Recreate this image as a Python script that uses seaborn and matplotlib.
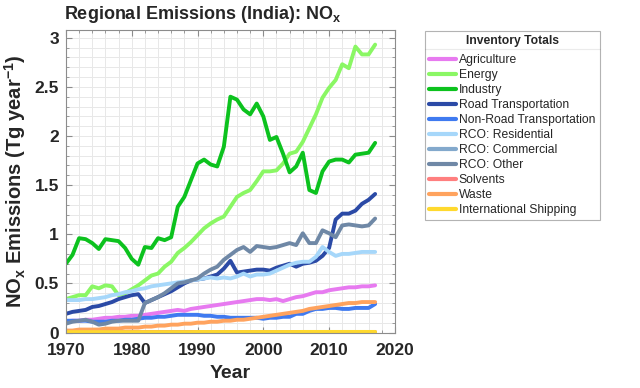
import numpy as np
import pandas as pd
import matplotlib
matplotlib.use("Agg")
import matplotlib.pyplot as plt
from matplotlib.lines import Line2D
from matplotlib.ticker import MultipleLocator, FuncFormatter
import seaborn as sns

# Years covered by the inventory
years = list(range(1970, 2018))

# Sector totals (Tg/yr)
agriculture = [0.11, 0.12, 0.12, 0.13, 0.13, 0.14, 0.15, 0.15, 0.16, 0.16,
               0.17, 0.17, 0.18, 0.19, 0.20, 0.21, 0.22, 0.23, 0.22, 0.24,
               0.25, 0.26, 0.27, 0.28, 0.29, 0.30, 0.31, 0.32, 0.33, 0.34,
               0.34, 0.33, 0.34, 0.32, 0.34, 0.36, 0.37, 0.39, 0.41, 0.41,
               0.43, 0.44, 0.45, 0.46, 0.46, 0.47, 0.47, 0.48]
energy = [0.34, 0.36, 0.38, 0.38, 0.47, 0.45, 0.48, 0.47, 0.38, 0.40,
          0.44, 0.48, 0.53, 0.58, 0.60, 0.67, 0.72, 0.81, 0.86, 0.92,
          0.99, 1.06, 1.11, 1.15, 1.18, 1.28, 1.38, 1.42, 1.45, 1.54,
          1.64, 1.64, 1.65, 1.72, 1.82, 1.84, 1.94, 2.08, 2.22, 2.39,
          2.49, 2.57, 2.73, 2.69, 2.91, 2.83, 2.83, 2.93]
industry = [0.70, 0.79, 0.96, 0.95, 0.91, 0.85, 0.95, 0.94, 0.93, 0.86,
            0.75, 0.69, 0.87, 0.86, 0.96, 0.94, 0.97, 1.28, 1.38, 1.55,
            1.72, 1.76, 1.71, 1.69, 1.89, 2.40, 2.37, 2.27, 2.22, 2.33,
            2.20, 1.96, 1.99, 1.82, 1.63, 1.69, 1.83, 1.45, 1.42, 1.64,
            1.74, 1.76, 1.76, 1.73, 1.81, 1.82, 1.83, 1.93]
road = [0.19, 0.21, 0.22, 0.23, 0.26, 0.27, 0.29, 0.31, 0.34, 0.36,
        0.38, 0.39, 0.30, 0.33, 0.36, 0.39, 0.42, 0.46, 0.50, 0.53,
        0.54, 0.55, 0.57, 0.59, 0.65, 0.73, 0.61, 0.62, 0.63, 0.64,
        0.64, 0.63, 0.66, 0.68, 0.70, 0.67, 0.70, 0.71, 0.73, 0.78,
        0.86, 1.15, 1.21, 1.21, 1.24, 1.31, 1.35, 1.41]
non_road = [0.12, 0.12, 0.12, 0.12, 0.11, 0.11, 0.11, 0.12, 0.12, 0.13,
            0.13, 0.14, 0.15, 0.15, 0.16, 0.16, 0.17, 0.18, 0.18, 0.18,
            0.18, 0.17, 0.17, 0.16, 0.16, 0.15, 0.15, 0.15, 0.15, 0.15,
            0.14, 0.15, 0.15, 0.16, 0.16, 0.19, 0.19, 0.22, 0.24, 0.24,
            0.25, 0.25, 0.24, 0.24, 0.25, 0.25, 0.25, 0.29]
residential = [0.33, 0.33, 0.33, 0.34, 0.34, 0.35, 0.36, 0.38, 0.39, 0.41,
               0.42, 0.44, 0.45, 0.47, 0.48, 0.49, 0.50, 0.51, 0.52, 0.53,
               0.54, 0.55, 0.56, 0.55, 0.56, 0.55, 0.57, 0.60, 0.57, 0.59,
               0.59, 0.60, 0.63, 0.66, 0.69, 0.71, 0.72, 0.72, 0.77, 0.87,
               0.82, 0.78, 0.80, 0.80, 0.81, 0.82, 0.82, 0.82]
commercial = [0.004, 0.004, 0.004, 0.004, 0.004, 0.004, 0.004, 0.004, 0.004, 0.004,
              0.004, 0.004, 0.004, 0.004, 0.004, 0.004, 0.004, 0.004, 0.004, 0.004,
              0.004, 0.004, 0.004, 0.004, 0.004, 0.004, 0.004, 0.004, 0.004, 0.004,
              0.004, 0.004, 0.004, 0.004, 0.004, 0.004, 0.004, 0.004, 0.004, 0.004,
              0.004, 0.004, 0.004, 0.004, 0.004, 0.004, 0.004, 0.004]
rco_other = [0.09, 0.11, 0.12, 0.13, 0.11, 0.08, 0.09, 0.11, 0.12, 0.12,
             0.12, 0.12, 0.30, 0.33, 0.36, 0.40, 0.45, 0.50, 0.51, 0.53,
             0.55, 0.60, 0.64, 0.67, 0.74, 0.79, 0.84, 0.87, 0.82, 0.88,
             0.87, 0.86, 0.87, 0.89, 0.91, 0.89, 1.01, 0.91, 0.91, 1.04,
             1.01, 0.97, 1.09, 1.10, 1.09, 1.08, 1.09, 1.16]
solvents = [0.003, 0.003, 0.003, 0.003, 0.003, 0.003, 0.003, 0.003, 0.003, 0.003,
            0.003, 0.003, 0.003, 0.003, 0.003, 0.003, 0.003, 0.003, 0.003, 0.003,
            0.003, 0.003, 0.003, 0.003, 0.003, 0.003, 0.003, 0.003, 0.003, 0.003,
            0.003, 0.003, 0.003, 0.003, 0.003, 0.003, 0.003, 0.003, 0.003, 0.003,
            0.003, 0.003, 0.003, 0.003, 0.003, 0.003, 0.003, 0.003]
waste = [0.02, 0.02, 0.03, 0.03, 0.03, 0.03, 0.04, 0.04, 0.04, 0.05,
         0.05, 0.05, 0.06, 0.06, 0.07, 0.07, 0.08, 0.08, 0.09, 0.09,
         0.10, 0.10, 0.11, 0.11, 0.12, 0.12, 0.13, 0.13, 0.14, 0.15,
         0.16, 0.17, 0.18, 0.19, 0.20, 0.21, 0.22, 0.24, 0.25, 0.26,
         0.27, 0.28, 0.29, 0.30, 0.30, 0.31, 0.31, 0.31]
shipping = [0.004, 0.004, 0.004, 0.004, 0.004, 0.004, 0.004, 0.004, 0.004, 0.004,
            0.004, 0.004, 0.004, 0.004, 0.004, 0.004, 0.004, 0.004, 0.004, 0.004,
            0.005, 0.005, 0.005, 0.005, 0.005, 0.005, 0.005, 0.005, 0.005, 0.005,
            0.005, 0.005, 0.005, 0.005, 0.005, 0.005, 0.006, 0.006, 0.006, 0.006,
            0.006, 0.006, 0.006, 0.006, 0.006, 0.006, 0.006, 0.006]

sectors = ['Agriculture', 'Energy', 'Industry', 'Road Transportation',
           'Non-Road Transportation', 'RCO: Residential', 'RCO: Commercial',
           'RCO: Other', 'Solvents', 'Waste', 'International Shipping']
series = [agriculture, energy, industry, road, non_road, residential,
          commercial, rco_other, solvents, waste, shipping]
colors = ['#E77AF0', '#8AF764', '#0CC21E', '#2B4AA6', '#3F7AF0', '#A6D7FA',
          '#83A9CC', '#6F88A6', '#FF7F7F', '#FFA35E', '#FFD92E']

# long-form table for seaborn
df = pd.concat([pd.DataFrame({'Year': years, 'Emissions': v, 'Sector': s})
                for s, v in zip(sectors, series)], ignore_index=True)

sns.set_style("ticks")
plt.rcParams['font.family'] = ['Liberation Sans', 'DejaVu Sans']
plt.rcParams['mathtext.fontset'] = 'custom'
plt.rcParams['mathtext.bf'] = 'Liberation Sans:bold'
plt.rcParams['mathtext.rm'] = 'Liberation Sans'
text_col = '#262626'

fig = plt.figure(figsize=(6.4, 3.88), dpi=100)
ax = fig.add_axes([0.103, 0.142, 0.514, 0.781])

palette = dict(zip(sectors, colors))
sns.lineplot(data=df, x='Year', y='Emissions', hue='Sector', hue_order=sectors,
             palette=palette, linewidth=2.8, legend=False, ax=ax)

ax.set_xlim(1970, 2020)
ax.set_ylim(-0.004, 3.08)
ax.xaxis.set_major_locator(MultipleLocator(10))
ax.xaxis.set_minor_locator(MultipleLocator(2))
ax.yaxis.set_major_locator(MultipleLocator(0.5))
ax.yaxis.set_minor_locator(MultipleLocator(0.1))
ax.yaxis.set_major_formatter(FuncFormatter(lambda v, p: f'{v:g}'))
ax.grid(which='both', color='#E8E8E8', linewidth=0.7)
ax.set_axisbelow(True)
ax.tick_params(which='both', direction='in', top=True, right=True, colors='#8C8C8C',
               labelcolor=text_col, labelsize=12.5)
ax.tick_params(which='major', length=4)
ax.tick_params(which='minor', length=2)
ax.tick_params(axis='x', which='major', pad=7.5)
ax.tick_params(axis='y', which='major', pad=5)
for lab in ax.get_xticklabels() + ax.get_yticklabels():
    lab.set_fontweight('bold')
for sp in ax.spines.values():
    sp.set_visible(True)
    sp.set_color('#8C8C8C')
    sp.set_linewidth(0.8)

ax.set_xlabel('Year', fontsize=14, fontweight='bold', color=text_col, labelpad=5)
ax.set_ylabel(r'NO$_\mathbf{x}$ Emissions (Tg year$^\mathbf{-1}$)', fontsize=14.5,
              fontweight='bold', color=text_col, labelpad=5)
fig.text(0.100, 0.99, r'Regional Emissions (India): NO$_\mathbf{x}$', fontsize=13,
         fontweight='bold', color=text_col, ha='left', va='top')

# legend box to the right of the axes
handles = [Line2D([], [], color=c, linewidth=3) for c in colors]
leg = fig.legend(handles, sectors, loc='upper left',
                 bbox_to_anchor=(0.664, 0.920, 0.273, 0.0), mode='expand',
                 borderaxespad=0, fontsize=8.7, handlelength=2.3, handletextpad=0.2,
                 labelspacing=0.245, title='Inventory Totals', frameon=True,
                 fancybox=False, borderpad=0.3)
leg._legend_box.sep = 5.5
leg.get_title().set_fontweight('bold')
leg.get_title().set_fontsize(8.7)
leg.get_frame().set_edgecolor('#A0A0A0')
leg.get_frame().set_linewidth(0.8)
for t in leg.get_texts():
    t.set_color(text_col)
fig.add_artist(Line2D([0.664, 0.937], [0.874, 0.874], color='#A0A0A0',
                      linewidth=0.8, transform=fig.transFigure))

fig.savefig('out.png', dpi=100)
